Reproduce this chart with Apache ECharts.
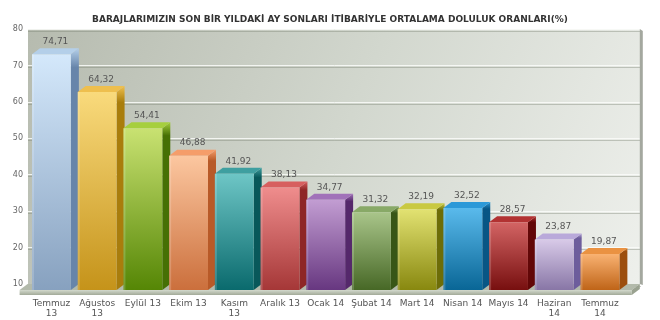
<!DOCTYPE html>
<html>
<head>
<meta charset="utf-8">
<script src="https://cdn.jsdelivr.net/npm/echarts@6/dist/echarts.min.js"></script>
<style>html,body{margin:0;padding:0;background:#fff}#c{width:660px;height:320px}</style>
</head>
<body>
<div id="c"></div>
<script>
var title = 'BARAJLARIMIZIN SON BİR YILDAKİ AY SONLARI İTİBARİYLE ORTALAMA DOLULUK ORANLARI(%)';
var categories = ['Temmuz\n13', 'Ağustos\n13', 'Eylül 13', 'Ekim 13', 'Kasım\n13', 'Aralık 13', 'Ocak 14', 'Şubat 14', 'Mart 14', 'Nisan 14', 'Mayıs 14', 'Haziran\n14', 'Temmuz\n14'];
var values = [74.71, 64.32, 54.41, 46.88, 41.92, 38.13, 34.77, 31.32, 32.19, 32.52, 28.57, 23.87, 19.87];
var yMin = 10, yMax = 80, yStep = 10;

// style palette: [front top, front bottom, side, top face]
var palette = [
  ['#d4e8fb', '#87a1bf', '#6785aa', '#b4cfe9'],
  ['#f9da7c', '#c5931a', '#a97d0c', '#eebf4e'],
  ['#c9e272', '#558605', '#467004', '#a6cf3e'],
  ['#fcc7a0', '#cb6f3c', '#b85a28', '#f59d6a'],
  ['#6ec6c6', '#0a6a6d', '#08585a', '#3f9fa0'],
  ['#ef8d8d', '#a53737', '#8e2626', '#d75f5f'],
  ['#c29dd2', '#673780', '#55286b', '#a172b9'],
  ['#a9c58a', '#476826', '#385617', '#88a967'],
  ['#e2e272', '#88880f', '#6d6d07', '#c9c942'],
  ['#5abaec', '#096696', '#085685', '#2c99d8'],
  ['#d36464', '#770f0f', '#620707', '#b23232'],
  ['#d8cae8', '#8876a6', '#6d5d9c', '#b9a9da'],
  ['#f9b272', '#bf6418', '#9c4e0e', '#ea9242']
];
var DX = 8, DY = 6;

function fmt(v) { return v.toFixed(2).replace('.', ','); }

function renderBar(params, api) {
  var idx = api.value(0), v = api.value(1);
  var top = api.coord([idx, v]), base = api.coord([idx, yMin]);
  var bw = api.size([1, 0])[0] * 0.85;
  var x0 = top[0] - bw / 2, x1 = top[0] + bw / 2;
  var yT = top[1], yB = base[1];
  var c = palette[idx];
  var G = echarts.graphic.LinearGradient;
  return {
    type: 'group',
    children: [
      { type: 'polygon', shape: { points: [[x1, yT], [x1 + DX, yT - DY], [x1 + DX, yB - DY], [x1, yB]] },
        style: { fill: new G(0, 0, 0, 1, [{ offset: 0, color: c[3] }, { offset: 0.08, color: c[2] }, { offset: 1, color: c[2] }]) } },
      { type: 'polygon', shape: { points: [[x0, yT], [x0 + DX, yT - DY], [x1 + DX, yT - DY], [x1, yT]] },
        style: { fill: c[3] } },
      { type: 'rect', shape: { x: x0, y: yT, width: bw, height: yB - yT },
        style: { fill: new G(0, 0, 0, 1, [{ offset: 0, color: c[0] }, { offset: 1, color: c[1] }]) } },
      { type: 'rect', shape: { x: x0, y: yT, width: 2, height: yB - yT },
        style: { fill: 'rgba(255,255,255,0.18)' } },
      { type: 'text', style: { text: fmt(v), x: top[0] + DX / 2, y: yT - DY - 2, align: 'center', verticalAlign: 'bottom',
        fill: '#555', font: '9px "DejaVu Sans"' } }
    ]
  };
}

function renderFloor(params, api) {
  var n = categories.length;
  var a = api.coord([0, yMin]), b = api.coord([n - 1, yMin]);
  var w = api.size([1, 0])[0];
  var xL = a[0] - w / 2 - 9, xR = b[0] + w / 2 + 9, y = a[1];
  var topC = api.coord([n - 1, yMax]);
  var T = 5;
  return {
    type: 'group',
    children: [
      { type: 'polygon', shape: { points: [[xR + DX, topC[1] - DY], [xR + DX + 3, topC[1] - DY + 2], [xR + DX + 3, y - DY + 1], [xR + DX, y - DY]] },
        style: { fill: '#a4a89f' } },
      { type: 'polygon', shape: { points: [[xL, y], [xL + DX, y - DY], [xR + DX, y - DY], [xR, y]] },
        style: { fill: '#b3baab' } },
      { type: 'rect', shape: { x: xL, y: y, width: xR - xL, height: T },
        style: { fill: new echarts.graphic.LinearGradient(0, 0, 0, 1, [{ offset: 0, color: '#d3d9cd' }, { offset: 1, color: '#a2aa98' }]) } },
      { type: 'polygon', shape: { points: [[xR, y], [xR + DX, y - DY], [xR + DX, y - DY + T], [xR, y + T]] },
        style: { fill: '#9aa290' } }
    ]
  };
}

var chart = echarts.init(document.getElementById('c'), null, { renderer: 'canvas' });
chart.setOption({
  animation: false,
  backgroundColor: '#ffffff',
  title: {
    text: title, left: 'center', top: 10,
    textStyle: { fontFamily: 'DejaVu Sans', fontSize: 9, fontWeight: 'bold', color: '#333' }
  },
  grid: [
    { left: 28, right: 19, top: 29, bottom: 36, show: true, borderWidth: 0,
      backgroundColor: new echarts.graphic.LinearGradient(0, 0, 1, 1, [{ offset: 0, color: '#b6bbaf' }, { offset: 0.5, color: '#d2d7ce' }, { offset: 1, color: '#eef0ec' }]) },
    { left: 28.6, right: 37.2, top: 35, bottom: 30 }
  ],
  xAxis: [
    { type: 'category', gridIndex: 0, data: categories, show: false },
    { type: 'category', gridIndex: 1, data: categories,
      axisLine: { show: false }, axisTick: { show: false },
      axisLabel: { interval: 0, margin: 9, color: '#555', fontFamily: 'DejaVu Sans', fontSize: 9, lineHeight: 10 } }
  ],
  yAxis: [
    { type: 'value', gridIndex: 0, min: yMin, max: yMax, interval: yStep,
      axisLine: { show: false }, axisTick: { show: false },
      axisLabel: { color: '#666', fontFamily: 'DejaVu Sans', fontSize: 8, margin: 5 },
      splitLine: { lineStyle: { color: 'rgba(250,251,249,0.85)', width: 1, shadowColor: 'rgba(120,128,112,0.45)', shadowOffsetY: 2, shadowBlur: 0 } } },
    { type: 'value', gridIndex: 1, min: yMin, max: yMax, interval: yStep, show: false, splitLine: { show: false } }
  ],
  series: [
    { type: 'custom', xAxisIndex: 1, yAxisIndex: 1, data: [[0, yMin]], renderItem: renderFloor, z: 1, silent: true },
    { type: 'custom', xAxisIndex: 1, yAxisIndex: 1, z: 2,
      data: values.map(function (v, i) { return [i, v]; }),
      encode: { x: 0, y: 1 }, renderItem: renderBar }
  ]
});
</script>
</body>
</html>
